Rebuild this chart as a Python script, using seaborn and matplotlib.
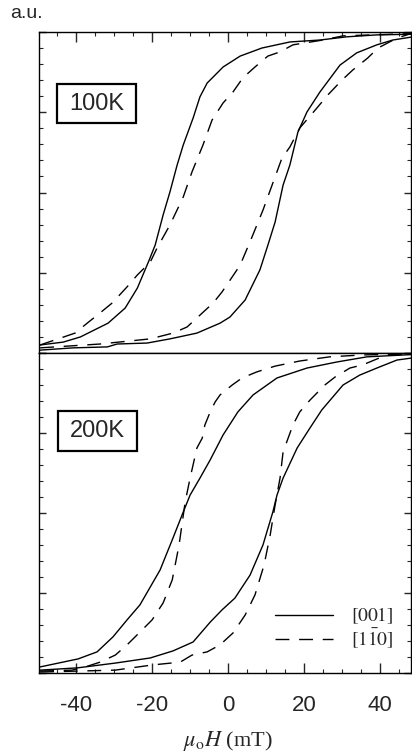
import numpy as np
import pandas as pd
import matplotlib
matplotlib.use("Agg")
import matplotlib.pyplot as plt
from matplotlib.lines import Line2D
from matplotlib.patches import Rectangle
from matplotlib.ticker import MultipleLocator
import seaborn as sns

# field values (mT) and normalised magnetisation read off the loops
# 100K, [001], field sweeping down / up
h100_001_down = [-49.5, -43.4, -38.9, -31.6, -27.1, -23.9, -21.0, -19.2, -17.1, -15.3, -13.4,
                 -11.8, -9.2, -7.4, -5.5, -1.3, 3.2, 8.9, 16.3, 24.2, 31.3, 39.2, 48.2]
m100_001_down = [0.025, 0.034, 0.050, 0.093, 0.140, 0.202, 0.283, 0.336, 0.430, 0.502, 0.586,
                 0.648, 0.732, 0.798, 0.841, 0.891, 0.925, 0.950, 0.969, 0.975, 0.985, 0.991, 0.993]
h100_001_up = [-49.5, -40.8, -31.8, -29.2, -21.3, -15.3, -8.2, -2.1, 0.5, 4.5, 8.4, 10.5,
               12.4, 14.5, 16.3, 18.4, 20.8, 24.2, 29.5, 33.9, 39.2, 43.4, 48.2]
m100_001_up = [0.009, 0.016, 0.019, 0.028, 0.031, 0.044, 0.062, 0.093, 0.112, 0.165, 0.259, 0.336,
               0.408, 0.523, 0.586, 0.688, 0.751, 0.813, 0.897, 0.935, 0.960, 0.975, 0.984]
# 100K, [1-10]
h100_110_down = [-49.5, -40.3, -37.1, -33.7, -30.5, -26.6, -23.9, -20.5, -18.7, -15.3, -11.8,
                 -9.5, -6.6, -4.2, -1.3, 1.3, 3.9, 7.1, 10.5, 13.7, 17.1, 25.0, 30.3, 48.2]
m100_110_down = [0.025, 0.062, 0.093, 0.125, 0.156, 0.206, 0.243, 0.283, 0.327, 0.399, 0.486,
                 0.564, 0.648, 0.726, 0.779, 0.813, 0.857, 0.891, 0.925, 0.938, 0.960, 0.975, 0.988, 0.995]
h100_110_up = [-49.5, -33.7, -20.5, -14.5, -10.8, -7.4, -3.9, -1.6, 1.1, 3.2, 6.3, 9.2, 11.6,
               14.2, 16.3, 18.9, 23.4, 26.3, 30.0, 32.9, 36.8, 39.5, 44.5, 48.2]
m100_110_up = [0.016, 0.028, 0.044, 0.062, 0.081, 0.118, 0.156, 0.190, 0.237, 0.274, 0.361, 0.445,
               0.523, 0.607, 0.642, 0.701, 0.763, 0.804, 0.850, 0.882, 0.919, 0.950, 0.981, 0.995]

# 200K, [001]
h200_001_down = [-49.5, -39.5, -34.5, -30.3, -26.6, -23.2, -17.9, -14.7, -11.8, -10.0, -7.4,
                 -4.7, -1.3, 2.6, 6.6, 12.9, 20.8, 28.7, 36.6, 48.2]
m200_001_down = [0.019, 0.044, 0.066, 0.113, 0.166, 0.213, 0.322, 0.416, 0.503, 0.556, 0.609,
                 0.666, 0.744, 0.816, 0.869, 0.922, 0.953, 0.972, 0.988, 0.995]
h200_001_up = [-49.5, -39.7, -29.7, -20.5, -14.5, -9.2, -4.7, -1.6, 1.8, 5.8, 9.2, 11.8, 12.9,
               14.5, 18.2, 21.6, 24.7, 30.3, 34.7, 39.2, 44.5, 48.2]
m200_001_up = [0.009, 0.016, 0.031, 0.047, 0.069, 0.097, 0.159, 0.197, 0.234, 0.306, 0.400, 0.503,
               0.556, 0.609, 0.703, 0.766, 0.822, 0.900, 0.931, 0.953, 0.978, 0.984]
# 200K, [1-10]
h200_110_down = [-49.5, -41.1, -37.6, -33.7, -29.7, -26.6, -23.2, -20.0, -17.1, -14.7, -12.9,
                 -11.3, -10.0, -8.2, -6.8, -6.1, -4.7, -3.4, -2.1, 1.1, 3.7, 7.6, 12.4, 18.9,
                 26.8, 35.5, 48.2]
m200_110_down = [0.006, 0.009, 0.019, 0.034, 0.056, 0.088, 0.128, 0.166, 0.219, 0.291, 0.400,
                 0.534, 0.609, 0.703, 0.734, 0.775, 0.816, 0.847, 0.869, 0.900, 0.922, 0.941,
                 0.959, 0.975, 0.988, 0.994, 0.997]
h200_110_up = [-49.5, -29.7, -20.0, -12.6, -9.5, -5.5, -2.1, 1.3, 4.5, 7.1, 9.5, 11.1, 12.4,
               13.7, 14.5, 17.1, 18.9, 21.6, 25.5, 28.2, 32.1, 35.5, 41.8, 48.2]
m200_110_up = [0.003, 0.009, 0.025, 0.034, 0.056, 0.066, 0.088, 0.125, 0.181, 0.244, 0.338, 0.431,
               0.525, 0.609, 0.691, 0.775, 0.816, 0.853, 0.900, 0.925, 0.953, 0.963, 0.994, 0.997]

temps = ["100K", "200K"]
axis_labels = ["[001]", "[1-10]"]
xticks = [-40, -20, 0, 20, 40]

branches = [
    ("100K", "[001]", "down", h100_001_down, m100_001_down),
    ("100K", "[001]", "up", h100_001_up, m100_001_up),
    ("100K", "[1-10]", "down", h100_110_down, m100_110_down),
    ("100K", "[1-10]", "up", h100_110_up, m100_110_up),
    ("200K", "[001]", "down", h200_001_down, m200_001_down),
    ("200K", "[001]", "up", h200_001_up, m200_001_up),
    ("200K", "[1-10]", "down", h200_110_down, m200_110_down),
    ("200K", "[1-10]", "up", h200_110_up, m200_110_up),
]
frames = []
for temp, axis, sweep, h, m in branches:
    frames.append(pd.DataFrame({"H": h, "M": m, "temp": temp, "axis": axis,
                                "branch": f"{temp}-{axis}-{sweep}"}))
df = pd.concat(frames, ignore_index=True)

sns.set_style("ticks")
plt.rcParams["font.family"] = ["Liberation Sans", "DejaVu Sans"]
plt.rcParams["mathtext.fontset"] = "stix"
plt.rcParams["axes.unicode_minus"] = False

W, H = 412, 753
fig = plt.figure(figsize=(W / 100, H / 100), dpi=100)
x0, x1 = 39 / W, 411 / W
ax_top = fig.add_axes([x0, 1 - 353 / H, x1 - x0, (353 - 32) / H])
ax_bot = fig.add_axes([x0, 1 - 673 / H, x1 - x0, (673 - 353) / H])
dash_map = {"[001]": "", "[1-10]": (10, 7)}

box_pos = {"100K": ((0.048, 0.717), 0.213, 0.121, (0.155, 0.777)),
           "200K": ((0.051, 0.694), 0.212, 0.125, (0.157, 0.756))}

for ax, temp in zip([ax_top, ax_bot], temps):
    sub = df[df["temp"] == temp]
    sns.lineplot(data=sub, x="H", y="M", style="axis", style_order=axis_labels,
                 units="branch", estimator=None, sort=False, color="black",
                 linewidth=1.0, dashes=dash_map, legend=False, ax=ax)
    ax.set_xlim(-49.8, 48.2)
    ax.set_ylim(0, 1)
    ax.set_xlabel("")
    ax.set_ylabel("")
    ax.xaxis.set_major_locator(MultipleLocator(20))
    ax.xaxis.set_minor_locator(MultipleLocator(5))
    ax.yaxis.set_major_locator(MultipleLocator(0.25))
    ax.yaxis.set_minor_locator(MultipleLocator(0.05))
    ax.tick_params(axis="x", which="major", direction="in", length=7, width=1.0)
    ax.tick_params(axis="x", which="minor", direction="in", length=3, width=0.8)
    ax.tick_params(axis="y", which="major", direction="in", length=5, width=1.0,
                   left=True, right=True, labelleft=False)
    ax.tick_params(axis="y", which="minor", direction="in", length=3, width=0.8,
                   left=True, right=True)
    for s in ax.spines.values():
        s.set_linewidth(1.0)
        s.set_color("black")
    (bx, by), bw, bh, (tx, ty) = box_pos[temp]
    ax.add_patch(Rectangle((bx, by), bw, bh, transform=ax.transAxes, fill=False,
                           edgecolor="black", linewidth=1.6, zorder=5))
    ax.text(tx, ty, temp, transform=ax.transAxes, ha="center", va="center",
            fontsize=17, zorder=6)

ax_top.tick_params(axis="x", which="both", top=True, bottom=False, labelbottom=False)
ax_bot.tick_params(axis="x", which="both", top=False, bottom=True)
ax_bot.set_xticks(xticks)
ax_bot.set_xticklabels([str(t) for t in xticks])
ax_bot.tick_params(axis="x", which="major", labelsize=16, pad=16)

handles = [Line2D([], [], color="black", linewidth=1.0),
           Line2D([], [], color="black", linewidth=1.0, dashes=(10, 7))]
ax_bot.legend(handles, [r"$\mathrm{[001]}$", r"$\mathrm{[1\bar{1}0]}$"],
              loc="upper left", bbox_to_anchor=(0.634, 0.21), frameon=False,
              fontsize=14, handlelength=3.0, handletextpad=0.9, labelspacing=0.0,
              borderpad=0, borderaxespad=0)

fig.text(10 / W, 1 - 13 / H, "a.u.", ha="left", va="center", fontsize=14)
fig.text(228 / W, 1 - 741 / H, r"$\mu_\mathrm{o}H$ (mT)", ha="center", va="center",
         fontsize=16, family="Liberation Serif")

fig.savefig("out.png", dpi=100)
